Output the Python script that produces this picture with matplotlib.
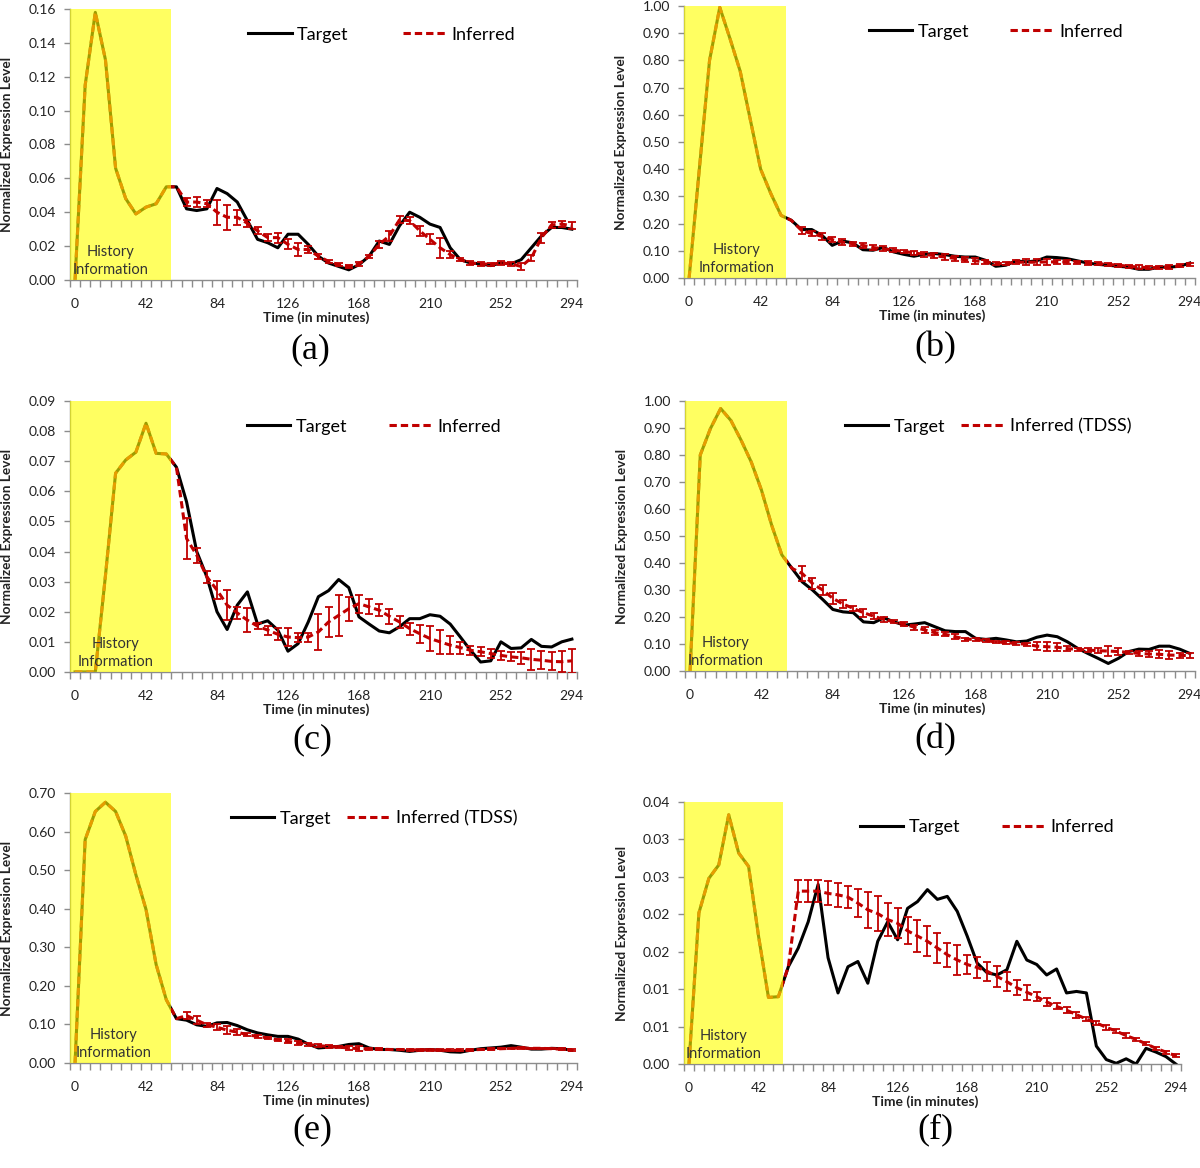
import numpy as np
import matplotlib
matplotlib.use('Agg')
import matplotlib.pyplot as plt
import matplotlib.transforms as mtransforms

plt.rcParams['font.family'] = ['Lato', 'DejaVu Sans']

# sampling times (minutes), one every 6 min
minutes = list(range(0, 295, 6))

# panel (a)
a_target = [0.0, 0.115, 0.158, 0.130, 0.066, 0.048, 0.039, 0.043, 0.045, 0.055,
            0.055, 0.042, 0.041, 0.042, 0.054, 0.051, 0.046, 0.035, 0.024, 0.022,
            0.019, 0.027, 0.027, 0.021, 0.014, 0.010, 0.008, 0.006, 0.009, 0.014,
            0.023, 0.021, 0.032, 0.040, 0.037, 0.033, 0.031, 0.019, 0.012, 0.010,
            0.0095, 0.0085, 0.010, 0.0095, 0.012, 0.019, 0.026, 0.031, 0.031, 0.030]
a_inferred = [0.0, 0.115, 0.158, 0.130, 0.066, 0.048, 0.039, 0.043, 0.045, 0.055,
              0.055, 0.046, 0.046, 0.045, 0.040, 0.037, 0.037, 0.0335, 0.029, 0.025,
              0.025, 0.021, 0.018, 0.018, 0.014, 0.011, 0.009, 0.008, 0.0095, 0.014,
              0.021, 0.026, 0.0355, 0.035, 0.029, 0.024, 0.019, 0.015, 0.012, 0.010,
              0.0095, 0.0093, 0.010, 0.0095, 0.008, 0.013, 0.025, 0.0325, 0.033, 0.032]
a_err = [0.0025, 0.003, 0.002, 0.0074, 0.0074, 0.0045, 0.002, 0.002, 0.002,
         0.003, 0.003, 0.004, 0.002, 0.0015, 0.001, 0.001, 0.001, 0.001, 0.001,
         0.002, 0.003, 0.002, 0.002, 0.003, 0.003, 0.006, 0.002, 0.001, 0.001,
         0.001, 0.001, 0.001, 0.001, 0.002, 0.002, 0.003, 0.002, 0.002, 0.002]

# panel (b)
b_target = [0.0, 0.40, 0.80, 0.995, 0.88, 0.76, 0.58, 0.40, 0.31, 0.23,
            0.212, 0.178, 0.178, 0.157, 0.12, 0.136, 0.129, 0.104, 0.102, 0.112,
            0.096, 0.087, 0.080, 0.087, 0.090, 0.086, 0.080, 0.077, 0.077, 0.065,
            0.043, 0.047, 0.063, 0.059, 0.063, 0.077, 0.075, 0.071, 0.063, 0.055,
            0.050, 0.047, 0.043, 0.040, 0.032, 0.032, 0.040, 0.040, 0.043, 0.055]
b_inferred = [0.0, 0.40, 0.80, 0.995, 0.88, 0.76, 0.58, 0.40, 0.31, 0.23,
              0.212, 0.175, 0.163, 0.153, 0.141, 0.132, 0.126, 0.120, 0.112, 0.108,
              0.102, 0.098, 0.092, 0.087, 0.082, 0.077, 0.072, 0.067, 0.063, 0.059,
              0.053, 0.053, 0.058, 0.058, 0.058, 0.059, 0.059, 0.059, 0.058, 0.055,
              0.053, 0.050, 0.047, 0.043, 0.040, 0.038, 0.038, 0.040, 0.045, 0.050]
b_err = [0.012, 0.010, 0.012, 0.010, 0.010, 0.008, 0.010, 0.008, 0.008,
         0.008, 0.006, 0.008, 0.010, 0.010, 0.012, 0.010, 0.010, 0.010, 0.008,
         0.006, 0.006, 0.008, 0.010, 0.010, 0.010, 0.008, 0.006, 0.006, 0.006,
         0.005, 0.005, 0.005, 0.005, 0.006, 0.006, 0.006, 0.006, 0.006, 0.006]

# panel (c)
c_target = [0.0, 0.0, 0.0, 0.032, 0.066, 0.0704, 0.073, 0.0826, 0.0726, 0.0724,
            0.068, 0.0565, 0.040, 0.0316, 0.020, 0.0141, 0.0222, 0.0266, 0.0159, 0.017,
            0.0139, 0.0069, 0.0094, 0.0166, 0.025, 0.027, 0.0307, 0.028, 0.0183, 0.0159,
            0.0136, 0.013, 0.015, 0.0177, 0.0177, 0.019, 0.0185, 0.0159, 0.0116, 0.0072,
            0.0033, 0.0037, 0.010, 0.0078, 0.008, 0.0108, 0.0085, 0.0083, 0.010, 0.0109]
c_inferred = [0.0, 0.0, 0.0, 0.032, 0.066, 0.0704, 0.073, 0.0826, 0.0726, 0.0724,
              0.068, 0.0443, 0.0388, 0.0316, 0.0272, 0.0222, 0.0196, 0.0172, 0.0152, 0.0139,
              0.0125, 0.0116, 0.0114, 0.0116, 0.0133, 0.0166, 0.0188, 0.021, 0.0227, 0.0216,
              0.0205, 0.0185, 0.0166, 0.0144, 0.0127, 0.0111, 0.010, 0.0089, 0.0081, 0.0072,
              0.0067, 0.0061, 0.0055, 0.005, 0.0047, 0.0042, 0.0039, 0.0035, 0.0034, 0.0037]
c_err = [0.0068, 0.0025, 0.002, 0.003, 0.005, 0.002, 0.004, 0.001, 0.0015,
         0.002, 0.003, 0.0015, 0.0015, 0.006, 0.005, 0.0067, 0.004, 0.003, 0.0025,
         0.002, 0.0025, 0.002, 0.002, 0.003, 0.004, 0.004, 0.003, 0.002, 0.0015,
         0.0015, 0.0015, 0.0015, 0.0015, 0.002, 0.0035, 0.003, 0.003, 0.0035, 0.004]

# panel (d)
d_target = [0.0, 0.80, 0.898, 0.972, 0.928, 0.855, 0.774, 0.67, 0.54, 0.43,
            0.38, 0.330, 0.300, 0.265, 0.228, 0.219, 0.216, 0.182, 0.179, 0.197,
            0.182, 0.170, 0.174, 0.179, 0.164, 0.149, 0.146, 0.146, 0.121, 0.117,
            0.121, 0.115, 0.108, 0.111, 0.125, 0.133, 0.127, 0.108, 0.084, 0.065,
            0.047, 0.028, 0.047, 0.072, 0.081, 0.080, 0.092, 0.092, 0.081, 0.065]
d_inferred = [0.0, 0.80, 0.898, 0.972, 0.928, 0.855, 0.774, 0.67, 0.54, 0.43,
              0.38, 0.361, 0.324, 0.300, 0.269, 0.248, 0.232, 0.216, 0.203, 0.191,
              0.182, 0.174, 0.162, 0.152, 0.142, 0.136, 0.127, 0.118, 0.117, 0.112,
              0.108, 0.105, 0.102, 0.099, 0.092, 0.090, 0.088, 0.083, 0.080, 0.078,
              0.075, 0.074, 0.072, 0.069, 0.065, 0.063, 0.062, 0.059, 0.058, 0.057]
d_err = [0.027, 0.02, 0.02, 0.02, 0.015, 0.01, 0.015, 0.01, 0.008,
         0.006, 0.006, 0.01, 0.012, 0.01, 0.008, 0.01, 0.006, 0.005, 0.005,
         0.005, 0.006, 0.005, 0.006, 0.014, 0.016, 0.015, 0.01, 0.006, 0.006,
         0.01, 0.02, 0.012, 0.006, 0.008, 0.01, 0.015, 0.015, 0.01, 0.01]

# panel (e)
e_target = [0.0, 0.579, 0.652, 0.676, 0.652, 0.588, 0.488, 0.398, 0.255, 0.164,
            0.115, 0.111, 0.099, 0.095, 0.104, 0.105, 0.097, 0.086, 0.078, 0.073,
            0.069, 0.069, 0.062, 0.049, 0.039, 0.041, 0.043, 0.048, 0.050, 0.039,
            0.035, 0.035, 0.033, 0.030, 0.033, 0.035, 0.033, 0.029, 0.028, 0.033,
            0.037, 0.039, 0.041, 0.045, 0.041, 0.036, 0.036, 0.038, 0.037, 0.033]
e_inferred = [0.0, 0.579, 0.652, 0.676, 0.652, 0.588, 0.488, 0.398, 0.255, 0.164,
              0.115, 0.123, 0.111, 0.099, 0.093, 0.085, 0.080, 0.073, 0.069, 0.065,
              0.060, 0.056, 0.052, 0.048, 0.045, 0.043, 0.041, 0.039, 0.037, 0.036,
              0.036, 0.035, 0.035, 0.034, 0.034, 0.034, 0.033, 0.033, 0.033, 0.034,
              0.035, 0.036, 0.037, 0.038, 0.039, 0.038, 0.038, 0.037, 0.036, 0.034]
e_err = [0.01, 0.01, 0.005, 0.007, 0.01, 0.008, 0.004, 0.003, 0.003,
         0.003, 0.005, 0.005, 0.003, 0.003, 0.003, 0.003, 0.005, 0.006, 0.003,
         0.002, 0.002, 0.002, 0.002, 0.002, 0.002, 0.002, 0.002, 0.002, 0.002,
         0.002, 0.002, 0.002, 0.002, 0.002, 0.002, 0.002, 0.002, 0.002, 0.002]

# panel (f)
f_target = [0.0, 0.0202, 0.0248, 0.0266, 0.0333, 0.0282, 0.0264, 0.0171, 0.0089, 0.009,
            0.013, 0.0155, 0.019, 0.024, 0.0142, 0.0095, 0.013, 0.0137, 0.0108, 0.0164,
            0.019, 0.0166, 0.0208, 0.0217, 0.0233, 0.022, 0.0224, 0.0204, 0.0171, 0.0135,
            0.0122, 0.0119, 0.0126, 0.0164, 0.0139, 0.0133, 0.0119, 0.0127, 0.0095, 0.0097,
            0.0095, 0.0024, 0.0006, 0.0001, 0.0007, 0.0, 0.0021, 0.0016, 0.001, 0.0]
f_inferred = [0.0, 0.0202, 0.0248, 0.0266, 0.0333, 0.0282, 0.0264, 0.0171, 0.0089, 0.009,
              0.013, 0.0231, 0.0231, 0.0231, 0.0228, 0.0226, 0.0223, 0.0215, 0.0206, 0.0201,
              0.0193, 0.0188, 0.0178, 0.0171, 0.0164, 0.0155, 0.0146, 0.0139, 0.0133, 0.0129,
              0.0124, 0.0117, 0.0110, 0.0102, 0.0096, 0.009, 0.0083, 0.0077, 0.0072, 0.0066,
              0.006, 0.0055, 0.0049, 0.0044, 0.0038, 0.0033, 0.0027, 0.0021, 0.0016, 0.0011]
f_err = [0.0015, 0.0015, 0.0015, 0.0016, 0.0016, 0.0015, 0.0019, 0.0024, 0.0023,
         0.0022, 0.002, 0.0018, 0.0021, 0.002, 0.002, 0.0016, 0.002, 0.0013, 0.0014,
         0.0013, 0.0014, 0.0013, 0.001, 0.001, 0.0006, 0.0005, 0.0004, 0.0004, 0.0004,
         0.0003, 0.0003, 0.0003, 0.0003, 0.0003, 0.0002, 0.0002, 0.0002, 0.0002, 0.0002]

f_ytick_labels = ['0.00', '0.01', '0.01', '0.02', '0.02', '0.03', '0.03', '0.04']

RED = '#C00000'
n_hist = 10   # history points 0..54
FIG_W, FIG_H = 1200, 1168

panels = [
    # label, target, inferred, err, ymax, ystep, legend label, axes rect, legend x, col spacing, history x
    ('(a)', a_target, a_inferred, a_err, 0.16, 0.02, 'Inferred', [0.0583, 0.7603, 0.4225, 0.2320], 0.615, 3.0, 21),
    ('(b)', b_target, b_inferred, b_err, 1.00, 0.10, 'Inferred', [0.5700, 0.7620, 0.4258, 0.2329], 0.610, 2.3, 28),
    ('(c)', c_target, c_inferred, c_err, 0.09, 0.01, 'Inferred', [0.0583, 0.4247, 0.4225, 0.2320], 0.600, 2.3, 24),
    ('(d)', d_target, d_inferred, d_err, 1.00, 0.10, 'Inferred (TDSS)', [0.5708, 0.4255, 0.4250, 0.2312], 0.594, 0.9, 21),
    ('(e)', e_target, e_inferred, e_err, 0.70, 0.10, 'Inferred (TDSS)', [0.0583, 0.0899, 0.4225, 0.2312], 0.600, 0.9, 23),
    ('(f)', f_target, f_inferred, f_err, 0.035, 0.005, 'Inferred', [0.5700, 0.0890, 0.4140, 0.2243], 0.610, 2.3, 21),
]
label_pos = [(310, 350), (935, 348), (312, 740), (935, 740), (312, 1130), (935, 1130)]

fig = plt.figure(figsize=(FIG_W / 100, FIG_H / 100), dpi=100)

for i, (lab, tgt, inf, err, ymax, ystep, inf_label, rect, legx, colsp, hx) in enumerate(panels):
    ax = fig.add_axes(rect)
    l1, = ax.plot(minutes, tgt, color='black', lw=2.2, zorder=2, label='Target')
    l2, = ax.plot(minutes, inf, color=RED, lw=2.2, dashes=(2.4, 1.3), zorder=2.5, label=inf_label)
    ax.errorbar(minutes[n_hist + 1:], inf[n_hist + 1:], yerr=err, fmt='none', ecolor=RED,
                elinewidth=1.3, capsize=3, capthick=1.3, zorder=2.6)

    # history window
    ax.axvspan(-3, 57, color='#FFFF00', alpha=0.62, lw=0, zorder=3)
    trans = mtransforms.blended_transform_factory(ax.transData, ax.transAxes)
    ax.text(hx, 0.012, 'History\nInformation', transform=trans, ha='center', va='bottom',
            fontsize=10.5, color='#333333', linespacing=1.35, zorder=5)

    ax.set_xlim(-3, 297)
    ax.set_ylim(0, ymax)
    yt = np.arange(0, ymax + ystep / 2, ystep)
    ax.set_yticks(yt)
    if lab == '(f)':
        ax.set_yticklabels(f_ytick_labels)
    else:
        ax.set_yticklabels(['%.2f' % v for v in yt])
    ax.set_xticks(range(0, 295, 42))
    ax.set_xticks(np.arange(-3, 298, 6), minor=True)
    ax.tick_params(axis='x', which='major', length=0, pad=13, labelsize=10, labelcolor='#222222')
    ax.tick_params(axis='x', which='minor', length=5, width=1, color='#8c8c8c', direction='out')
    ax.tick_params(axis='y', length=4, width=1, color='#8c8c8c', pad=6, labelsize=10,
                   labelcolor='#222222')

    for s in ['top', 'right']:
        ax.spines[s].set_visible(False)
    for s in ['left', 'bottom']:
        ax.spines[s].set_color('#8c8c8c')
        ax.spines[s].set_linewidth(1)

    h_px = rect[3] * FIG_H
    ax.set_xlabel('Time (in minutes)', fontsize=10, fontweight='bold', color='#222222')
    ax.xaxis.set_label_coords(0.485, -31 / h_px)
    ax.set_ylabel('Normalized Expression Level', fontsize=9.8, fontweight='bold', color='#222222')
    ax.yaxis.set_label_coords(-0.112, 0.5)

    ax.legend(handles=[l1, l2], loc='center', bbox_to_anchor=(legx, 0.905), ncol=2,
              frameon=False, fontsize=13, handlelength=2.4, handletextpad=0.3,
              columnspacing=colsp, borderaxespad=0)

    px, py = label_pos[i]
    fig.text(px / FIG_W, 1 - py / FIG_H, lab, fontsize=26, family='Liberation Serif',
             ha='center', va='center')

fig.savefig('out.png', dpi=100)
